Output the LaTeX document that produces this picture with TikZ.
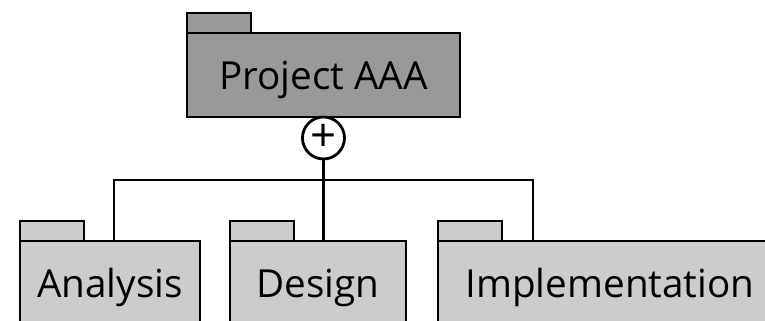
\documentclass[tikz,border=0pt]{standalone}
\usepackage{fontspec}
\setmainfont{Open Sans}
\usetikzlibrary{positioning}
\definecolor{pkgdark}{HTML}{999999}
\definecolor{pkglight}{HTML}{CCCCCC}

\begin{document}
\begin{tikzpicture}[
  x=0.02cm, y=-0.02cm,
  line width=1.6pt,
  pkg/.style={rectangle, draw=black, inner sep=0pt, outer sep=0pt, minimum height=1.68cm, anchor=north west, text height=16pt, text depth=0pt, font=\fontsize{22}{26}\selectfont},
  pkgtab/.style={rectangle, draw=black, inner sep=0pt, outer sep=0pt, minimum width=1.28cm, minimum height=0.4cm},
  joint/.style={circle, draw=black, fill=white, inner sep=0pt, outer sep=0pt, minimum size=0.84cm, font=\fontsize{26}{26}\selectfont}
]
  \clip (0,0) rectangle (765,321);
  % parent package
  \node[pkg, fill=pkgdark, minimum width=5.46cm] (proj) at (187,33) {Project AAA};
  \node[pkgtab, fill=pkgdark, above right=0pt of proj.north west] (projtab) {};
  % child packages
  \node[pkg, fill=pkglight, minimum width=3.6cm] (ana) at (20,241) {Analysis};
  \node[pkgtab, fill=pkglight, above right=0pt of ana.north west] (anatab) {};
  \node[pkg, fill=pkglight, minimum width=3.52cm] (des) at (230,241) {Design};
  \node[pkgtab, fill=pkglight, above right=0pt of des.north west] (destab) {};
  \node[pkg, fill=pkglight, minimum width=6.88cm] (imp) at (438,241) {Implementation};
  \node[pkgtab, fill=pkglight, above right=0pt of imp.north west] (imptab) {};
  % containment
  \node[joint, below=0pt of proj.south] (plus) {+};
  \coordinate (hub) at (plus |- 0,180);
  \coordinate (anatop) at (114,241);
  \coordinate (imptop) at (533,241);
  \draw (plus) -- (hub);
  \draw (anatop) |- (hub) -| (imptop);
  \draw (hub) -- (hub |- des.north);
\end{tikzpicture}
\end{document}
